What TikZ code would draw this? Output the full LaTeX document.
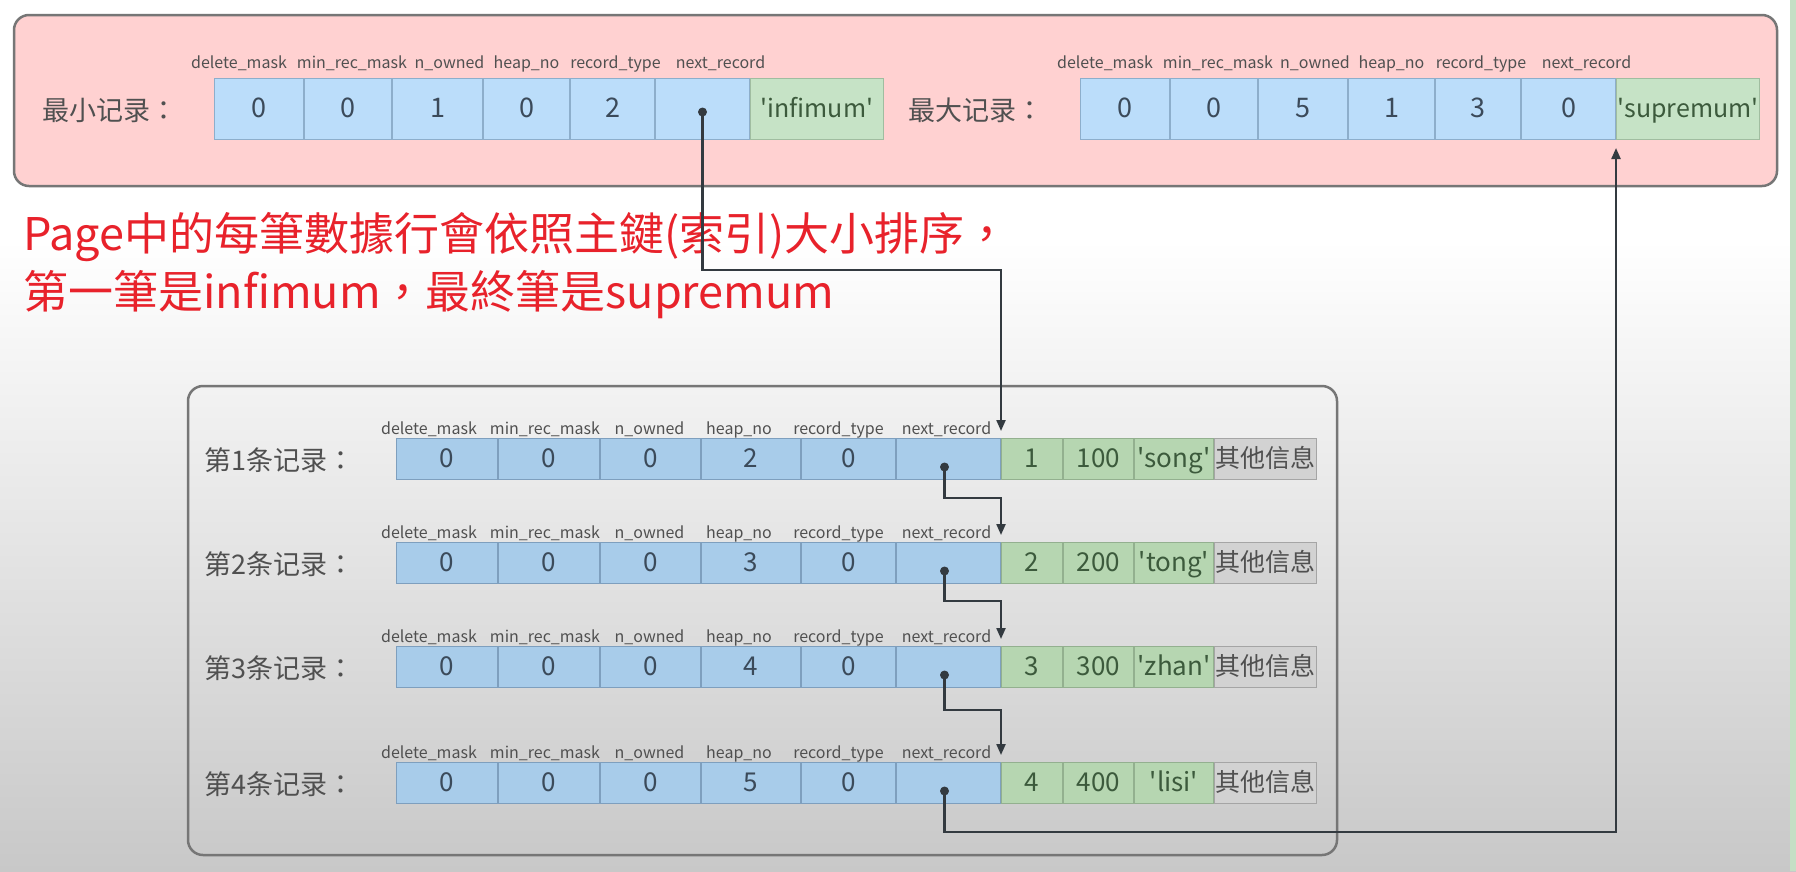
\documentclass[tikz,border=0pt]{standalone}
\usepackage{fontspec}
\setmainfont{Noto Sans CJK SC}
\newfontfamily\tcfont{Noto Sans CJK TC}
\usepackage{tikz}
\usetikzlibrary{positioning, arrows.meta}
\usepackage{xcolor}

\definecolor{pinkbg}{HTML}{FFD1D1}
\definecolor{panelline}{HTML}{767676}
\definecolor{topblue}{HTML}{BBDDFA}
\definecolor{topblueline}{HTML}{8DAECB}
\definecolor{topgreen}{HTML}{C6E3C6}
\definecolor{topgreenline}{HTML}{A0BDA0}
\definecolor{lowblue}{HTML}{A8CCEA}
\definecolor{lowblueline}{HTML}{7E9FBE}
\definecolor{lowgreen}{HTML}{B6D6B1}
\definecolor{lowgreenline}{HTML}{93B08F}
\definecolor{othergray}{HTML}{D2D2D2}
\definecolor{othergrayline}{HTML}{A5A5A5}
\definecolor{valtext}{HTML}{3B4A5A}
\definecolor{greentext}{HTML}{3C5A3C}
\definecolor{labeltext}{HTML}{505050}
\definecolor{linkc}{HTML}{333A40}
\definecolor{notered}{HTML}{E8222B}
\definecolor{bgbot}{HTML}{C8C8C8}
\definecolor{stripc}{HTML}{C5DFC5}

\newcommand{\quoted}[1]{\textquotesingle#1\textquotesingle}

\begin{document}
\begin{tikzpicture}[
        x=1pt, y=-1pt,
        cell/.style={
            rectangle,
            draw,
            inner sep=0pt,
            line width=1pt
        },
        topcell/.style={
            cell,
            minimum height=61pt,
            text height=18pt,
            text depth=0.5pt,
            fill=topblue,
            draw=topblueline,
            text=valtext,
            font=\fontsize{27pt}{30pt}\selectfont
        },
        topname/.style={
            topcell,
            text height=17pt,
            fill=topgreen,
            draw=topgreenline,
            text=greentext,
            font=\fontsize{25pt}{30pt}\selectfont
        },
        reccell/.style={
            cell,
            minimum height=41pt,
            text height=17pt,
            text depth=0pt,
            fill=lowblue,
            draw=lowblueline,
            text=valtext,
            font=\fontsize{26pt}{30pt}\selectfont
        },
        recdata/.style={
            reccell,
            fill=lowgreen,
            draw=lowgreenline,
            text=greentext
        },
        recother/.style={
            reccell,
            fill=othergray,
            draw=othergrayline,
            text=labeltext,
            font=\fontsize{25pt}{30pt}\selectfont
        },
        field/.style={
            inner sep=0pt,
            text height=12pt,
            text depth=3.5pt,
            text=labeltext,
            font=\fontsize{16pt}{18pt}\selectfont
        },
        rowlabel/.style={
            inner sep=0pt,
            anchor=west,
            text=labeltext,
            font=\fontsize{27pt}{30pt}\selectfont
        },
        note/.style={
            inner sep=0pt,
            anchor=base west,
            text=notered,
            font=\tcfont\fontsize{45pt}{54pt}\selectfont
        },
        pointer/.style={
            circle,
            fill=linkc,
            inner sep=0pt,
            minimum size=9pt
        },
        link/.style={
            draw=linkc,
            line width=2.2pt,
            -{Triangle[length=11pt, width=9pt]}
        },
        panel/.style={
            draw=panelline,
            line width=2.5pt,
            rounded corners=15pt
        }
    ]

        % Tło
        \useasboundingbox (0,0) rectangle (1796,871);
        \fill[white] (0,0) rectangle (1796,871);
        \shade[top color=white, bottom color=bgbot] (0,240) rectangle (1796,871);
        \fill[stripc] (1790,0) rectangle (1796,871);

        % Panele
        \draw[panel, fill=pinkbg] (14,15) rectangle (1777,186);
        \draw[panel] (188,386) rectangle (1337,855);

        % Rekord minimalny
        \node[rowlabel] (minlbl) at (42,110) {最小记录{\tcfont ：}};
        \node[topcell, minimum width=89pt, anchor=north west] (lc1) at (214,78) {0};
        \node[topcell, minimum width=87pt, right=0pt of lc1] (lc2) {0};
        \node[topcell, minimum width=90pt, right=0pt of lc2] (lc3) {1};
        \node[topcell, minimum width=86pt, right=0pt of lc3] (lc4) {0};
        \node[topcell, minimum width=84pt, right=0pt of lc4] (lc5) {2};
        \node[topcell, minimum width=94pt, right=0pt of lc5] (lc6) {};
        \node[topname, minimum width=133pt, right=0pt of lc6] (lc7) {\quoted{infimum}};
        \node[field, above=6pt of lc1, xshift=-20pt] (lf1) {delete\_mask};
        \node[field, above=6pt of lc2, xshift=4pt] (lf2) {min\_rec\_mask};
        \node[field, above=6pt of lc3, xshift=12pt] (lf3) {n\_owned};
        \node[field, above=6pt of lc4] (lf4) {heap\_no};
        \node[field, above=6pt of lc5, xshift=3pt] (lf5) {record\_type};
        \node[field, above=6pt of lc6, xshift=18pt] (lf6) {next\_record};

        % Rekord maksymalny
        \node[rowlabel] (maxlbl) at (908,110) {最大记录{\tcfont ：}};
        \node[topcell, minimum width=89pt, anchor=north west] (rc1) at (1080,78) {0};
        \node[topcell, minimum width=87pt, right=0pt of rc1] (rc2) {0};
        \node[topcell, minimum width=89pt, right=0pt of rc2] (rc3) {5};
        \node[topcell, minimum width=86pt, right=0pt of rc3] (rc4) {1};
        \node[topcell, minimum width=85pt, right=0pt of rc4] (rc5) {3};
        \node[topcell, minimum width=94pt, right=0pt of rc5] (rc6) {0};
        \node[topname, minimum width=143pt, right=0pt of rc6] (rc7) {\quoted{supremum}};
        \node[field, above=6pt of rc1, xshift=-20pt] (rf1) {delete\_mask};
        \node[field, above=6pt of rc2, xshift=4pt] (rf2) {min\_rec\_mask};
        \node[field, above=6pt of rc3, xshift=12pt] (rf3) {n\_owned};
        \node[field, above=6pt of rc4] (rf4) {heap\_no};
        \node[field, above=6pt of rc5, xshift=3pt] (rf5) {record\_type};
        \node[field, above=6pt of rc6, xshift=18pt] (rf6) {next\_record};

        % Opis
        \node[note] (note1) at (23,250) {Page中的每筆數據行會依照主鍵(索引)大小排序，};
        \node[note] (note2) at (23,308) {第一筆是infimum，最終筆是supremum};

        % Rekordy użytkownika
        \foreach \rec/\ty/\hn/\ka/\kb/\kc in {1/438/2/1/100/song, 2/542/3/2/200/tong, 3/646/4/3/300/zhan, 4/762/5/4/400/lisi} {
            \node[rowlabel] (rl\rec) at (204,\ty+22) {第{\rec}条记录{\tcfont ：}};
            \node[reccell, minimum width=101pt, anchor=north west] (r\rec c1) at (396,\ty) {0};
            \node[reccell, minimum width=101pt, right=0pt of r\rec c1] (r\rec c2) {0};
            \node[reccell, minimum width=100pt, right=0pt of r\rec c2] (r\rec c3) {0};
            \node[reccell, minimum width=99pt, right=0pt of r\rec c3] (r\rec c4) {\hn};
            \node[reccell, minimum width=94pt, right=0pt of r\rec c4] (r\rec c5) {0};
            \node[reccell, minimum width=104pt, right=0pt of r\rec c5] (r\rec c6) {};
            \node[recdata, minimum width=61pt, right=0pt of r\rec c6] (r\rec c7) {\ka};
            \node[recdata, minimum width=70pt, right=0pt of r\rec c7] (r\rec c8) {\kb};
            \node[recdata, minimum width=79pt, right=0pt of r\rec c8] (r\rec c9) {\quoted{\kc}};
            \node[recother, minimum width=102pt, right=0pt of r\rec c9] (r\rec c10) {其他信息};
            \node[field, above=0pt of r\rec c1, xshift=-18pt] (f\rec a) {delete\_mask};
            \node[field, above=0pt of r\rec c2, xshift=-4pt] (f\rec b) {min\_rec\_mask};
            \node[field, above=0pt of r\rec c3, xshift=-1pt] (f\rec c) {n\_owned};
            \node[field, above=0pt of r\rec c4, xshift=-12pt] (f\rec d) {heap\_no};
            \node[field, above=0pt of r\rec c5, xshift=-10pt] (f\rec e) {record\_type};
            \node[field, above=0pt of r\rec c6, xshift=-2pt] (f\rec f) {next\_record};
            \node[pointer] (d\rec) at ([xshift=-4pt, yshift=-8pt]r\rec c6.center) {};
        }
        \node[pointer] (d0) at ([yshift=-3pt]lc6.center) {};

        % Punkty załamania
        \coordinate (k0) at (0,270);
        \coordinate (k1) at (0,498);
        \coordinate (k2) at (0,601);
        \coordinate (k3) at (0,710);
        \coordinate (k4) at (0,832);

        % Połączenia next_record
        \draw[link] (d0.center) |- (k0 -| r1c6.north east) -- ([yshift=7pt]r1c6.north east);
        \draw[link] (d1.center) |- (k1 -| r2c6.north east) -- ([yshift=7pt]r2c6.north east);
        \draw[link] (d2.center) |- (k2 -| r3c6.north east) -- ([yshift=7pt]r3c6.north east);
        \draw[link] (d3.center) |- (k3 -| r4c6.north east) -- ([yshift=7pt]r4c6.north east);
        \draw[link] (d4.center) |- (k4 -| rc7.south west) -- ([yshift=-8pt]rc7.south west);

    \end{tikzpicture}
\end{document}
